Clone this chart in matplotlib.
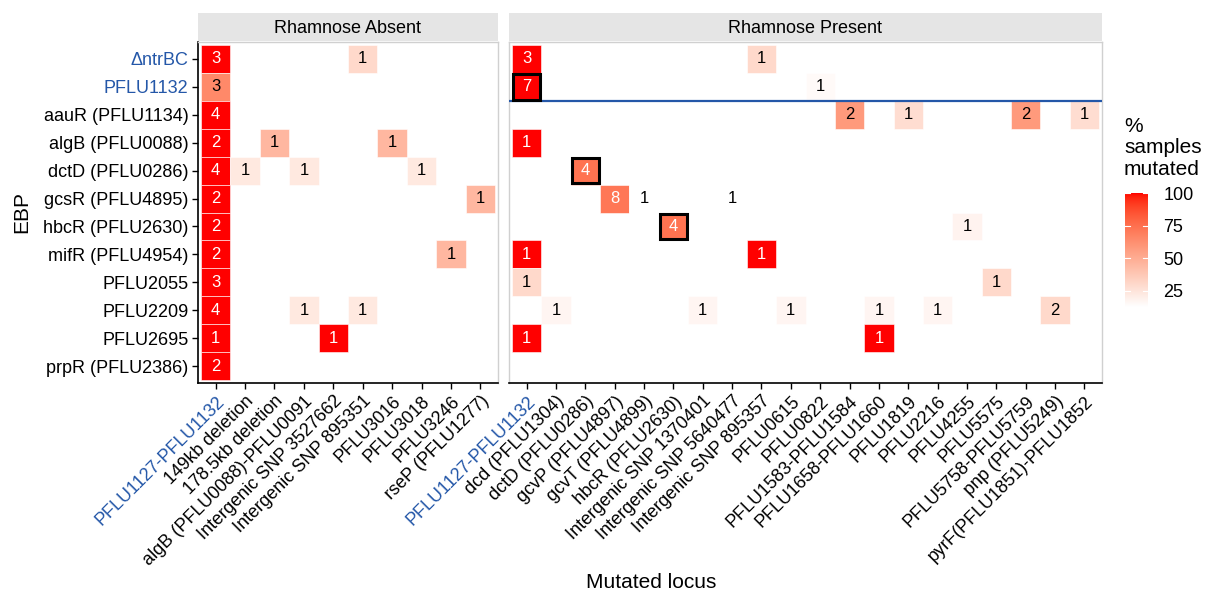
import numpy as np
import matplotlib
matplotlib.use("Agg")
import matplotlib.pyplot as plt
from matplotlib.colors import ListedColormap, Normalize
from matplotlib.patches import Rectangle

plt.rcParams['font.family'] = ['Liberation Sans', 'DejaVu Sans']

# ---- data -------------------------------------------------------------
ebp_labels = ["\u0394ntrBC", "PFLU1132", "aauR (PFLU1134)", "algB (PFLU0088)",
              "dctD (PFLU0286)", "gcsR (PFLU4895)", "hbcR (PFLU2630)",
              "mifR (PFLU4954)", "PFLU2055", "PFLU2209", "PFLU2695",
              "prpR (PFLU2386)"]

absent_loci = ["PFLU1127-PFLU1132", "149kb deletion", "178.5kb deletion",
               "algB (PFLU0088)-PFLU0091", "Intergenic SNP 3527662",
               "Intergenic SNP 895351", "PFLU3016", "PFLU3018", "PFLU3246",
               "rseP (PFLU1277)"]

present_loci = ["PFLU1127-PFLU1132", "dcd (PFLU1304)", "dctD (PFLU0286)",
                "gcvP (PFLU4897)", "gcvT (PFLU4899)", "hbcR (PFLU2630)",
                "Intergenic SNP 1370401", "Intergenic SNP 5640477",
                "Intergenic SNP 895357", "PFLU0615", "PFLU0822",
                "PFLU1583-PFLU1584", "PFLU1658-PFLU1660", "PFLU1819",
                "PFLU2216", "PFLU4255", "PFLU5575", "PFLU5758-PFLU5759",
                "pnp (PFLU5249)", "pyrF(PFLU1851)-PFLU1852"]

# Rhamnose absent: EBP row, locus column, number of mutated samples, % mutated
absent_ebp = ["\u0394ntrBC", "\u0394ntrBC", "PFLU1132", "aauR (PFLU1134)",
              "algB (PFLU0088)", "algB (PFLU0088)", "algB (PFLU0088)",
              "dctD (PFLU0286)", "dctD (PFLU0286)", "dctD (PFLU0286)", "dctD (PFLU0286)",
              "gcsR (PFLU4895)", "gcsR (PFLU4895)", "hbcR (PFLU2630)",
              "mifR (PFLU4954)", "mifR (PFLU4954)", "PFLU2055",
              "PFLU2209", "PFLU2209", "PFLU2209",
              "PFLU2695", "PFLU2695", "prpR (PFLU2386)"]
absent_locus = ["PFLU1127-PFLU1132", "Intergenic SNP 895351", "PFLU1127-PFLU1132",
                "PFLU1127-PFLU1132",
                "PFLU1127-PFLU1132", "178.5kb deletion", "PFLU3016",
                "PFLU1127-PFLU1132", "149kb deletion", "algB (PFLU0088)-PFLU0091", "PFLU3018",
                "PFLU1127-PFLU1132", "rseP (PFLU1277)", "PFLU1127-PFLU1132",
                "PFLU1127-PFLU1132", "PFLU3246", "PFLU1127-PFLU1132",
                "PFLU1127-PFLU1132", "algB (PFLU0088)-PFLU0091", "Intergenic SNP 895351",
                "PFLU1127-PFLU1132", "Intergenic SNP 3527662", "PFLU1127-PFLU1132"]
absent_count = [3, 1, 3, 4, 2, 1, 1, 4, 1, 1, 1, 2, 1, 2, 2, 1, 3, 4, 1, 1, 1, 1, 2]
absent_pct = [100, 30, 65, 100, 100, 45, 45, 100, 23, 23, 23, 100, 45, 100,
              100, 45, 100, 100, 23, 23, 100, 100, 100]

# Rhamnose present
present_ebp = ["\u0394ntrBC", "\u0394ntrBC", "PFLU1132", "PFLU1132",
               "aauR (PFLU1134)", "aauR (PFLU1134)", "aauR (PFLU1134)", "aauR (PFLU1134)",
               "algB (PFLU0088)", "dctD (PFLU0286)",
               "gcsR (PFLU4895)", "gcsR (PFLU4895)", "gcsR (PFLU4895)",
               "hbcR (PFLU2630)", "hbcR (PFLU2630)",
               "mifR (PFLU4954)", "mifR (PFLU4954)",
               "PFLU2055", "PFLU2055",
               "PFLU2209", "PFLU2209", "PFLU2209", "PFLU2209", "PFLU2209", "PFLU2209",
               "PFLU2695", "PFLU2695"]
present_locus = ["PFLU1127-PFLU1132", "Intergenic SNP 895357", "PFLU1127-PFLU1132", "PFLU0822",
                 "PFLU1583-PFLU1584", "PFLU1819", "PFLU5758-PFLU5759", "pyrF(PFLU1851)-PFLU1852",
                 "PFLU1127-PFLU1132", "dctD (PFLU0286)",
                 "gcvP (PFLU4897)", "gcvT (PFLU4899)", "Intergenic SNP 5640477",
                 "hbcR (PFLU2630)", "PFLU4255",
                 "PFLU1127-PFLU1132", "Intergenic SNP 895357",
                 "PFLU1127-PFLU1132", "PFLU5575",
                 "dcd (PFLU1304)", "Intergenic SNP 1370401", "PFLU0615", "PFLU1658-PFLU1660",
                 "PFLU2216", "pnp (PFLU5249)",
                 "PFLU1127-PFLU1132", "PFLU1658-PFLU1660"]
present_count = [3, 1, 7, 1, 2, 1, 2, 1, 1, 4, 8, 1, 1, 4, 1, 1, 1, 1, 1,
                 1, 1, 1, 1, 1, 2, 1, 1]
present_pct = [100, 30, 100, 15, 58, 28, 58, 28, 100, 74, 72, 12.5, 12.5, 74, 18,
               100, 100, 30, 30, 17, 17, 17, 17, 17, 30, 100, 100]

# highlighted (outlined) tiles in the rhamnose-present panel
boxed_ebp = ["PFLU1132", "dctD (PFLU0286)", "hbcR (PFLU2630)"]
boxed_locus = ["PFLU1127-PFLU1132", "dctD (PFLU0286)", "hbcR (PFLU2630)"]

highlight_labels = ["\u0394ntrBC", "PFLU1132", "PFLU1127-PFLU1132"]
pct_limits = (12.5, 100)
legend_breaks = [25, 50, 75, 100]

# ---- colour scale: white -> red, interpolated in CIELAB ------------------
def _srgb_to_lab(rgb):
    rgb = np.asarray(rgb, float)
    lin = np.where(rgb <= 0.04045, rgb / 12.92, ((rgb + 0.055) / 1.055) ** 2.4)
    M = np.array([[0.4124, 0.3576, 0.1805],
                  [0.2126, 0.7152, 0.0722],
                  [0.0193, 0.1192, 0.9505]])
    xyz = M @ lin
    xyz = xyz / np.array([0.95047, 1.0, 1.08883])
    f = np.where(xyz > 0.008856, np.cbrt(xyz), 7.787 * xyz + 16 / 116)
    return np.array([116 * f[1] - 16, 500 * (f[0] - f[1]), 200 * (f[1] - f[2])])


def _lab_to_srgb(lab):
    L, a, b = lab
    fy = (L + 16) / 116
    fx = fy + a / 500
    fz = fy - b / 200
    f = np.array([fx, fy, fz])
    xyz = np.where(f ** 3 > 0.008856, f ** 3, (f - 16 / 116) / 7.787)
    xyz = xyz * np.array([0.95047, 1.0, 1.08883])
    Minv = np.array([[3.2406, -1.5372, -0.4986],
                     [-0.9689, 1.8758, 0.0415],
                     [0.0557, -0.2040, 1.0570]])
    lin = Minv @ xyz
    lin = np.clip(lin, 0, 1)
    rgb = np.where(lin <= 0.0031308, 12.92 * lin, 1.055 * lin ** (1 / 2.4) - 0.055)
    return np.clip(rgb, 0, 1)


lab_lo = _srgb_to_lab([1, 1, 1])
lab_hi = _srgb_to_lab([1, 0, 0])
cmap = ListedColormap([_lab_to_srgb(lab_lo + t * (lab_hi - lab_lo))
                       for t in np.linspace(0, 1, 256)])
norm = Normalize(*pct_limits)

# ---- figure layout ------------------------------------------------------
W, H = 1206, 595
fig = plt.figure(figsize=(W / 100, H / 100), dpi=100)


def px_axes(x0, y0, x1, y1):
    return fig.add_axes([x0 / W, 1 - y1 / H, (x1 - x0) / W, (y1 - y0) / H])


PANEL_TOP, PANEL_BOT = 42, 383
ax_a = px_axes(198, PANEL_TOP, 498, PANEL_BOT)
ax_p = px_axes(509, PANEL_TOP, 1102, PANEL_BOT)

BLUE = "#2457A8"
GRID_GREY = "#D0D0D0"


def draw_panel(ax, loci, ebp, locus, count, pct, title):
    nx, ny = len(loci), len(ebp_labels)
    for e, l, c, p in zip(ebp, locus, count, pct):
        xi, yi = loci.index(l), ebp_labels.index(e)
        ax.add_patch(Rectangle((xi - 0.5, yi - 0.5), 1, 1,
                               facecolor=cmap(norm(p)), edgecolor="white",
                               linewidth=0.4, zorder=2))
        ax.text(xi, yi, str(c), ha="center", va="center", fontsize=12,
                color="white" if p > 68 else "black", zorder=5)
    ax.set_xlim(-0.6, nx - 0.4)
    ax.set_ylim(ny - 0.4, -0.6)
    ax.set_xticks(range(nx))
    ax.set_xticklabels(loci, rotation=45, ha="right", va="top",
                       rotation_mode="anchor", fontsize=13)
    for t in ax.get_xticklabels():
        if t.get_text() in highlight_labels:
            t.set_color(BLUE)
    ax.tick_params(axis="x", length=4, width=1, pad=3, color="black")
    for s in ax.spines.values():
        s.set_color(GRID_GREY)
        s.set_linewidth(1)
    ax.spines["bottom"].set_color("black")
    ax.spines["bottom"].set_linewidth(1.2)
    ax.set_facecolor("white")
    # facet strip
    bb = ax.get_position()
    strip = fig.add_axes([bb.x0, 1 - 41 / H, bb.width, 28 / H])
    strip.set_facecolor("#E5E5E5")
    strip.set_xticks([]); strip.set_yticks([])
    for s in strip.spines.values():
        s.set_visible(False)
    strip.text(0.5, 0.45, title, ha="center", va="center", fontsize=13,
               transform=strip.transAxes)


draw_panel(ax_a, absent_loci, absent_ebp, absent_locus, absent_count,
           absent_pct, "Rhamnose Absent")
draw_panel(ax_p, present_loci, present_ebp, present_locus, present_count,
           present_pct, "Rhamnose Present")

# y axis (first panel only)
ax_a.set_yticks(range(len(ebp_labels)))
ax_a.set_yticklabels(ebp_labels, fontsize=13)
for t in ax_a.get_yticklabels():
    if t.get_text() in highlight_labels:
        t.set_color(BLUE)
ax_a.tick_params(axis="y", length=4, width=1, pad=3, color="black")
ax_a.spines["left"].set_color("black")
ax_a.spines["left"].set_linewidth(1.2)
ax_p.set_yticks([])

# divider under the PFLU1132 row and outlined tiles
ax_p.axhline(ebp_labels.index("PFLU1132") + 0.5, color=BLUE, linewidth=1.6, zorder=3)
for e, l in zip(boxed_ebp, boxed_locus):
    xi, yi = present_loci.index(l), ebp_labels.index(e)
    ax_p.add_patch(Rectangle((xi - 0.46, yi - 0.46), 0.92, 0.92, facecolor="none",
                             edgecolor="black", linewidth=2.2, zorder=4))

# axis titles
fig.text(22 / W, 1 - 212 / H, "EBP", rotation=90, ha="center", va="center", fontsize=15)
fig.text(651 / W, 1 - 583 / H, "Mutated locus", ha="center", va="center", fontsize=15)

# colour bar legend
cax = px_axes(1125, 193, 1148, 307)
grad = np.linspace(pct_limits[0], pct_limits[1], 256).reshape(-1, 1)
cax.imshow(grad, aspect="auto", cmap=cmap, norm=norm, origin="lower",
           extent=(0, 1, pct_limits[0], pct_limits[1]))
cax.set_xlim(0, 1)
cax.set_ylim(*pct_limits)
cax.set_xticks([])
cax.yaxis.tick_right()
cax.set_yticks(legend_breaks)
cax.set_yticklabels([str(b) for b in legend_breaks], fontsize=13)
cax.tick_params(axis="y", length=0, pad=11)
for b in legend_breaks:
    cax.plot([0, 0.2], [b, b], color="white", linewidth=0.8)
    cax.plot([0.8, 1], [b, b], color="white", linewidth=0.8)
for s in cax.spines.values():
    s.set_visible(False)
fig.text(1124 / W, 1 - 117 / H, "%\nsamples\nmutated", ha="left", va="top",
         fontsize=15, linespacing=1.16)

fig.savefig("out.png", dpi=100, facecolor="white")
